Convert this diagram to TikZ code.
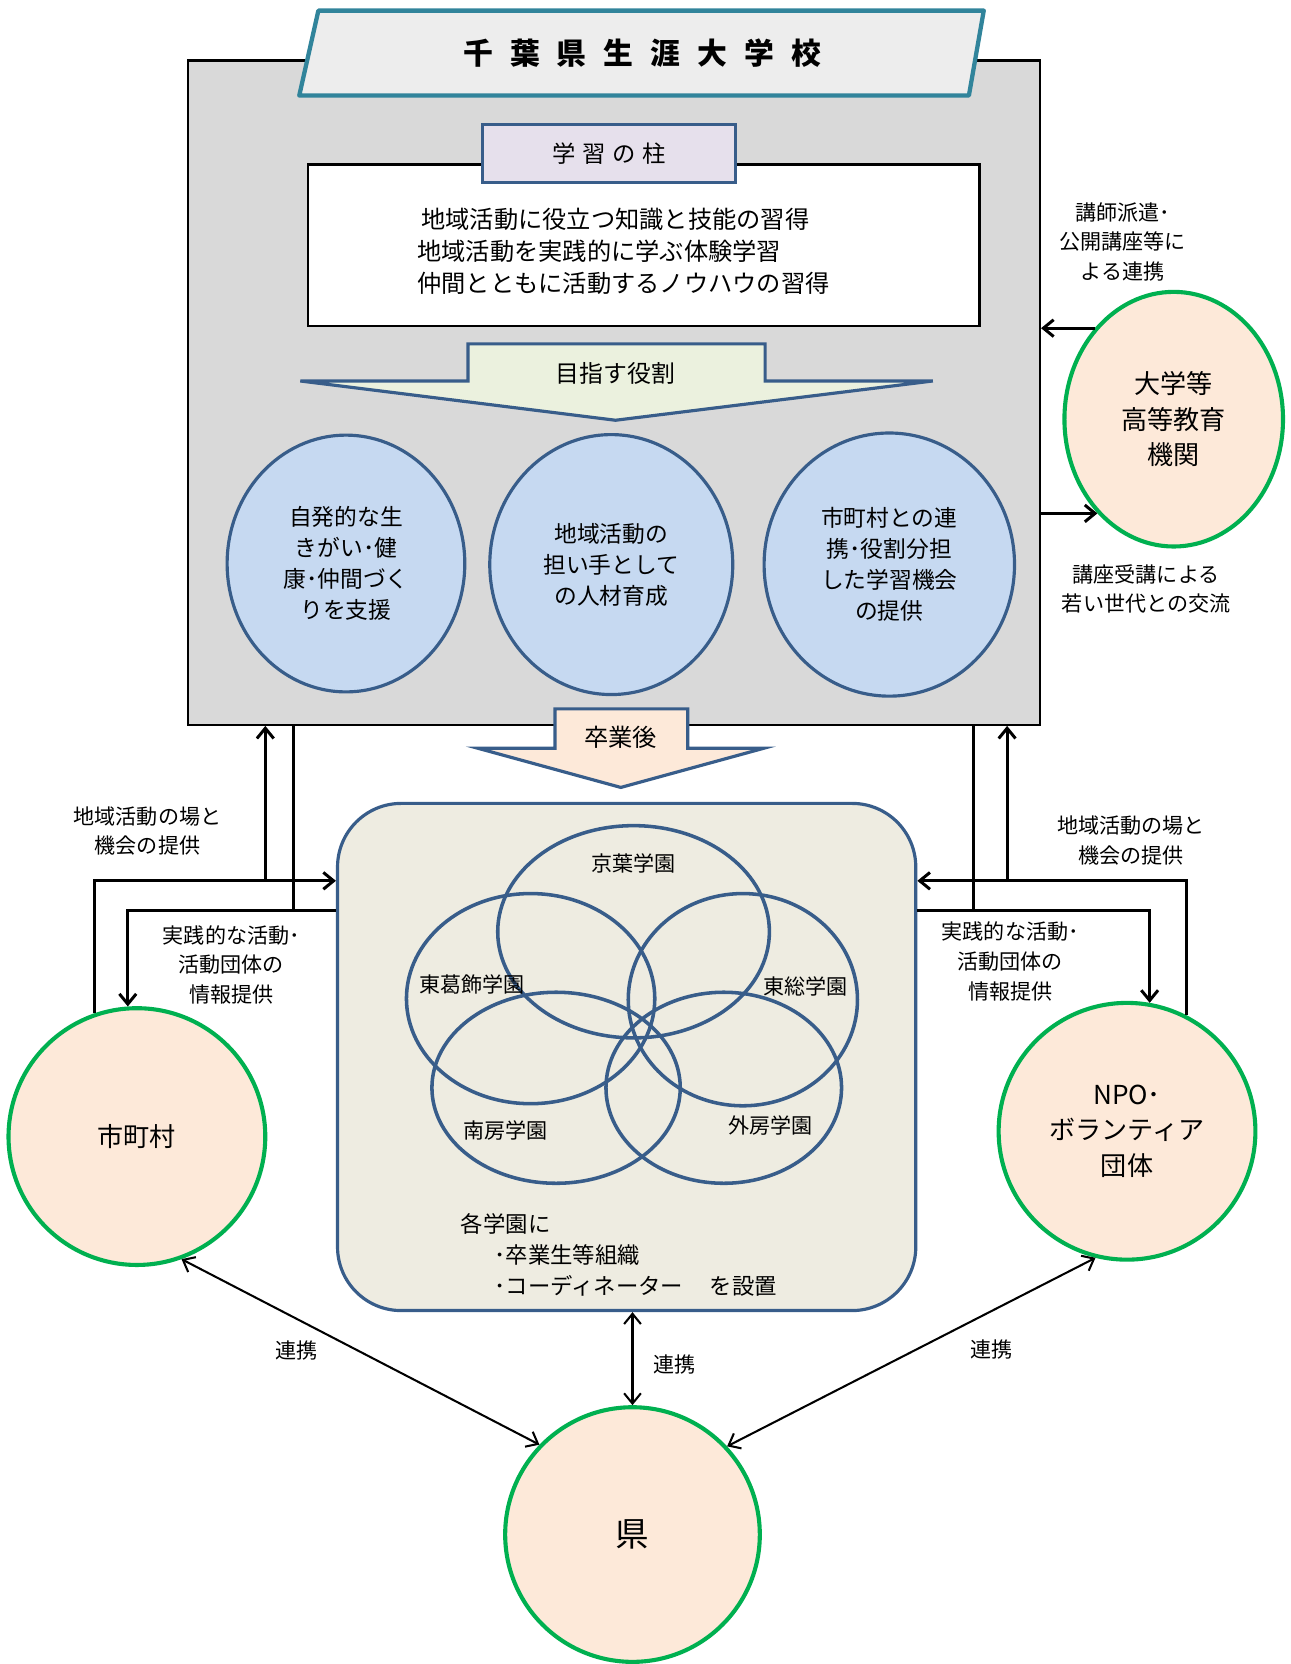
\documentclass[tikz,border=0pt]{standalone}
\usepackage[rgb]{xcolor}
\usepackage{fontspec}
\setmainfont{Noto Sans CJK JP}
\usepackage{tikz}
\usetikzlibrary{arrows.meta,shapes.geometric}
\definecolor{cs_frame}{HTML}{385D8A}
\definecolor{cs_gray}{HTML}{D9D9D9}
\definecolor{cs_role}{HTML}{C6D9F1}
\definecolor{cs_peach}{HTML}{FDE9D9}
\definecolor{cs_green}{HTML}{00B050}
\definecolor{cs_campus}{HTML}{EEECE1}
\definecolor{cs_pillar}{HTML}{E6E0EC}
\definecolor{cs_aim}{HTML}{EBF1DE}
\definecolor{cs_teal}{HTML}{31849B}
\definecolor{cs_paper}{HTML}{EDEDED}
\newcommand{\setfs}[2]{\fontsize{#1}{#2}\selectfont}
\newcommand{\tsp}{\hspace{0.57em}}

\begin{document}
\begin{tikzpicture}[x=0.02cm, y=-0.02cm,
        conn/.style={line width=1.6pt},
        connto/.style={conn, -{Straight Barb[length=5.5pt,width=9pt]}},
        pact/.style={line width=1.1pt, {Straight Barb[length=5.5pt,width=9pt]}-{Straight Barb[length=5.5pt,width=9pt]}},
        role/.style={ellipse, draw=cs_frame, line width=1.7pt, fill=cs_role, inner sep=0pt, align=center, font=\setfs{12.2}{16.6}},
        org/.style={circle, draw=cs_green, line width=2.2pt, fill=cs_peach, inner sep=0pt, align=center, font=\setfs{14}{19.2}, minimum size=4.84cm},
        lbl/.style={align=center, font=\setfs{11.3}{15.9}},
        venn/.style={draw=cs_frame, line width=1.9pt},
        gname/.style={font=\setfs{11.3}{14}}]

            \useasboundingbox (0,0) rectangle (1216,1568);

            \node[draw, line width=1.2pt, fill=cs_gray, minimum width=16.06cm, minimum height=12.52cm, inner sep=0pt] (school) at (578.5,370) {};

            \filldraw[draw=cs_teal, fill=cs_paper, line width=2.3pt, line join=round] (300,10) -- (927,10) -- (913,90) -- (282,90) -- cycle;
            \node[font=\setfs{16}{16}\bfseries] (title) at (605,50) {千\tsp 葉\tsp 県\tsp 生\tsp 涯\tsp 大\tsp 学\tsp 校};

            \node[draw, line width=1.2pt, fill=white, minimum width=12.66cm, minimum height=3.04cm] (pillarbox) at (606.5,231) {};
            \node[align=left, anchor=west, inner sep=0pt, font=\setfs{13}{17}] (pillartext) at (393,237) {\,地域活動に役立つ知識と技能の習得\\地域活動を実践的に学ぶ体験学習\\仲間とともに活動するノウハウの習得};
            \node[draw=cs_frame, line width=1.7pt, fill=cs_pillar, minimum width=4.76cm, minimum height=1.1cm, font=\setfs{12.5}{12.5}] (pillar) at (574,144.5) {学\hspace{.3em}習\hspace{.3em}の\hspace{.3em}柱};

            \filldraw[draw=cs_frame, fill=cs_aim, line width=1.7pt] (441,324) -- (721,324) -- (721,359) -- (879,359) -- (580,396) -- (283,359) -- (441,359) -- cycle;
            \node[font=\setfs{12.8}{12.8}] (aim) at (580,352) {目指す役割};

            \node[role, minimum width=4.48cm, minimum height=4.84cm] (roleA) at (326,531) {自発的な生\\きがい･健\\康･仲間づく\\りを支援};
            \node[role, minimum width=4.58cm, minimum height=4.9cm] (roleB) at (576,532) {地域活動の\\担い手として\\の人材育成};
            \node[role, minimum width=4.72cm, minimum height=4.96cm] (roleC) at (838,532) {市町村との連\\携･役割分担\\した学習機会\\の提供};

            \filldraw[draw=cs_frame, fill=cs_peach, line width=1.7pt] (523,668) -- (648,668) -- (648,705) -- (720,705) -- (585,742) -- (450,705) -- (523,705) -- cycle;
            \node[font=\setfs{13}{13}] (after) at (585,695) {卒業後};

            \node[draw=cs_frame, line width=1.7pt, fill=cs_campus, rounded corners=1.2cm, minimum width=10.9cm, minimum height=9.56cm] (campus) at (590.5,996) {};

            \draw[venn] (597,878) ellipse (128 and 100);
            \draw[venn] (500,941) ellipse (117 and 99);
            \draw[venn] (700,942) ellipse (108 and 100);
            \draw[venn] (524,1025) ellipse (117 and 90);
            \draw[venn] (682,1025) ellipse (111 and 90);
            \node[gname] (keiyo) at (597,814) {京葉学園};
            \node[gname] (higashikatsushika) at (445,928) {東葛飾学園};
            \node[gname] (tousou) at (759,930) {東総学園};
            \node[gname] (nanbou) at (476,1065) {南房学園};
            \node[gname] (sotobou) at (726,1061) {外房学園};
            \node[align=left, anchor=north west, inner sep=0pt, font=\setfs{12}{16.8}] (note) at (434,1143) {各学園に\\\hspace{1.5em}･卒業生等組織\\\hspace{1.5em}･コーディネーター\hspace{1.2em}を設置};

            \node[org, ellipse, minimum width=4.12cm, minimum height=4.8cm] (univ) at (1106,395) {大学等\\高等教育\\機関};
            \node[org] (city) at (129,1071) {市町村};
            \node[org] (npo) at (1062,1066) {NPO･\\ボランティア\\団体};
            \node[org, minimum size=4.8cm, font=\setfs{18}{18}] (pref) at (596,1446) {県};

            \draw[conn] (school.south -| 277,0) -- (277,858);
            \draw[connto] (campus.west |- 0,858) -| (city.94);
            \draw[connto] (city.109) |- (campus.west |- 0,830);
            \draw[connto] (250,830) -- (school.south -| 250,0);

            \draw[conn] (school.south -| 917,0) -- (917,858);
            \draw[connto] (campus.east |- 0,858) -| (npo.80);
            \draw[connto] (npo.63) |- (campus.east |- 0,830);
            \draw[connto] (949,830) -- (school.south -| 949,0);

            \draw[connto] (univ.131) -- (univ.131 -| school.east);
            \draw[connto] (univ.231 -| school.east) -- (univ.231);

            \draw[pact] (city.-70) -- (pref.136);
            \draw[pact] (campus.south -| pref.north) -- (pref.north);
            \draw[pact] (npo.-104) -- (pref.43);

            \node[lbl] (placeL) at (139,783) {地域活動の場と\\機会の提供};
            \node[lbl] (infoL) at (218,909) {実践的な活動･\\活動団体の\\情報提供};
            \node[lbl] (placeR) at (1066,792) {地域活動の場と\\機会の提供};
            \node[lbl] (infoR) at (952,906) {実践的な活動･\\活動団体の\\情報提供};
            \node[lbl] (lecture) at (1058,228) {講師派遣･\\公開講座等に\\よる連携};
            \node[lbl] (youth) at (1080,555) {講座受講による\\若い世代との交流};
            \node[lbl] (pactL) at (279,1273) {連携};
            \node[lbl] (pactC) at (636,1286) {連携};
            \node[lbl] (pactR) at (934,1272) {連携};

        \end{tikzpicture}
\end{document}
